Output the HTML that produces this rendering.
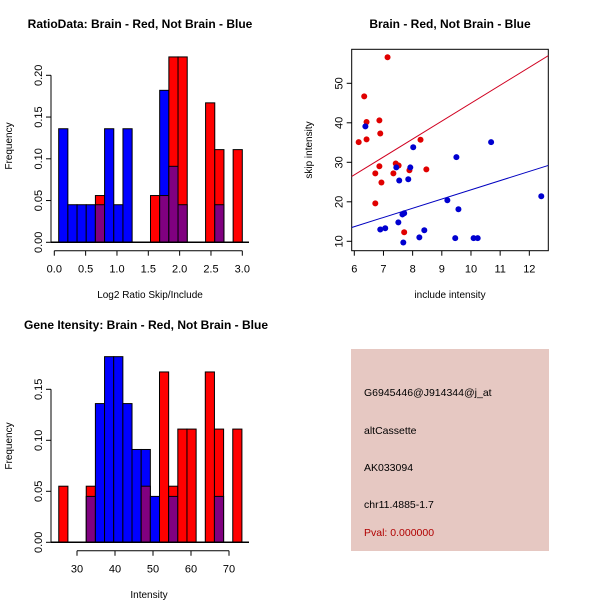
<!DOCTYPE html>
<html><head><meta charset="utf-8"><style>
body{margin:0;background:#fff;}
svg{display:block;font-family:"Liberation Sans",sans-serif;}
</style></head><body>
<svg id="c" width="600" height="600">
<rect x="0" y="0" width="600" height="600" fill="#fff"/>
</svg>
<script>
// Panel 1: ratio histogram
const ratioBinStart = 0.07, ratioBinWidth = 0.1465;
const ratioRed  = [0,0,0,0,0.056,0,0,0,0,0,0.056,0.056,0.222,0.222,0,0,0.167,0.111,0,0.111];
const ratioBlue = [0.136,0.045,0.045,0.045,0.045,0.136,0.045,0.136,0,0,0,0.182,0.091,0.045,0,0,0,0.045,0,0];
const ratioXTicks = ["0.0","0.5","1.0","1.5","2.0","2.5","3.0"];
const ratioYTicks = ["0.00","0.05","0.10","0.15","0.20"];
// Panel 2: scatter
const redX = [7.14,6.34,6.42,6.86,6.15,6.42,6.89,8.27,7.42,7.52,6.86,7.34,6.72,7.89,8.47,6.93,6.72,7.71];
const redY = [56.6,46.7,40.2,40.6,35.1,35.8,37.3,35.7,29.7,29.2,29.0,27.2,27.2,28.0,28.2,24.9,19.6,12.3];
const blueX = [6.38,8.02,7.44,7.92,7.54,7.85,9.5,10.69,9.19,9.57,7.65,7.71,7.51,6.89,7.06,8.4,8.23,7.68,9.46,10.09,10.23,12.41];
const blueY = [39.1,33.8,28.7,28.7,25.4,25.7,31.3,35.1,20.4,18.1,16.8,17.1,14.8,13.0,13.3,12.8,11.0,9.7,10.8,10.8,10.8,21.4];
const redFit = [-0.43, 4.54];   // intercept, slope
const blueFit = [-0.27, 2.33];
const scatXTicks = [6,7,8,9,10,11,12];
const scatYTicks = [10,20,30,40,50];
// Panel 3: intensity histogram
const intBinStart = 25.2, intBinWidth = 2.41;
const intRed  = [0.055,0,0,0.055,0,0,0,0,0,0.055,0,0.167,0.055,0.111,0.111,0,0.167,0.111,0,0.111];
const intBlue = [0,0,0,0.045,0.136,0.182,0.182,0.136,0.091,0.091,0.045,0,0.045,0,0,0,0,0.045,0,0];
const intXTicks = [30,40,50,60,70];
const intYTicks = ["0.00","0.05","0.10","0.15"];

const svg = document.getElementById('c');
const NS = 'http://www.w3.org/2000/svg';
function mk(tag, attrs, text){
  const e = document.createElementNS(NS, tag);
  for (const k in attrs) e.setAttribute(k, attrs[k]);
  if (text !== undefined) e.textContent = text;
  svg.appendChild(e);
  return e;
}

function histogram(prefix, red, blue, binStart, binW, sx, sy, y0){
  for (let i = 0; i < red.length; i++){
    const r = red[i], b = blue[i];
    const x1 = sx(binStart + i*binW), x2 = sx(binStart + (i+1)*binW);
    const hi = Math.max(r,b), lo = Math.min(r,b);
    if (hi > 0){
      const e = mk('rect',{x:x1,y:sy(hi),width:x2-x1,height:y0-sy(hi),fill:r>=b?'#ff0000':'#0000ff',stroke:'#000','stroke-width':1});
      
      
    }
    if (lo > 0){
      const e = mk('rect',{x:x1,y:sy(lo),width:x2-x1,height:y0-sy(lo),fill:'#800080',stroke:'#000','stroke-width':1});
      
      
    }
  }
}
function yAxis(prefix, ticks, sy, xAxis, yTop, yBot){
  mk('line',{x1:xAxis,y1:yBot,x2:xAxis,y2:yTop,stroke:'#000'});
  ticks.forEach(t=>{
    const y = sy(+t);
    mk('line',{x1:xAxis-5,y1:y,x2:xAxis,y2:y,stroke:'#000'});
    const e = mk('text',{x:xAxis-9,y:y,'font-size':11,'text-anchor':'middle',transform:`rotate(-90 ${xAxis-9} ${y})`},t);
    
    
  });
}
function xAxis(prefix, ticks, sx, yAx, x1, x2){
  mk('line',{x1:x1,y1:yAx,x2:x2,y2:yAx,stroke:'#000'});
  ticks.forEach(t=>{
    const x = sx(+t);
    mk('line',{x1:x,y1:yAx,x2:x,y2:yAx+5,stroke:'#000'});
    const e = mk('text',{x:x,y:yAx+22,'font-size':11,'text-anchor':'middle'},String(t));
    
    
  });
}

// ---- Panel 1
{
  const sx = v => 54.3 + v*62.67;
  const sy = v => 242.3 - v*835;
  histogram('ratio', ratioRed, ratioBlue, ratioBinStart, ratioBinWidth, sx, sy, 242.3);
  mk('line',{x1:51,y1:242.3,x2:249,y2:242.3,stroke:'#000','stroke-width':1.5});
  yAxis('ratio', ratioYTicks, sy, 51, sy(0.20), sy(0));
  xAxis('ratio', ratioXTicks, sx, 250.7, sx(0), sx(3));
}
// ---- Panel 3
{
  const sx = v => 77 + (v-30)*3.8;
  const sy = v => 542.3 - v*1020;
  histogram('intensity', intRed, intBlue, intBinStart, intBinWidth, sx, sy, 542.3);
  mk('line',{x1:51,y1:542.3,x2:249,y2:542.3,stroke:'#000','stroke-width':1.5});
  yAxis('intensity', intYTicks, sy, 51, sy(0.15), sy(0));
  xAxis('intensity', intXTicks, sx, 550.7, sx(30), sx(70));
}
// ---- Panel 2
{
  const sx = v => 354.3 + (v-6)*29.17;
  const sy = v => 241.3 - (v-10)*3.95;
  const xmin = (351.7-354.3)/29.17+6, xmax = (548.3-354.3)/29.17+6;
  mk('rect',{x:351.7,y:49.3,width:196.6,height:201.4,fill:'none',stroke:'#000'});
  // axes ticks
  scatYTicks.forEach(t=>{
    const y = sy(t);
    mk('line',{x1:346.7,y1:y,x2:351.7,y2:y,stroke:'#000'});
    const e = mk('text',{x:342.7,y:y,'font-size':11,'text-anchor':'middle',transform:`rotate(-90 342.7 ${y})`},String(t));
    
    
  });
  scatXTicks.forEach(t=>{
    const x = sx(t);
    mk('line',{x1:x,y1:250.7,x2:x,y2:255.7,stroke:'#000'});
    const e = mk('text',{x:x,y:272.7,'font-size':11,'text-anchor':'middle'},String(t));
    
    
  });
  const cp = mk('clipPath',{id:'clipS'});
  const cr = document.createElementNS(NS,'rect');
  cr.setAttribute('x',351.7);cr.setAttribute('y',49.3);cr.setAttribute('width',196.6);cr.setAttribute('height',201.4);
  cp.appendChild(cr);
  const rl = mk('line',{x1:sx(xmin),y1:sy(redFit[0]+redFit[1]*xmin),x2:sx(xmax),y2:sy(redFit[0]+redFit[1]*xmax),stroke:'#d00020','clip-path':'url(#clipS)'});
  
  
  const bl = mk('line',{x1:sx(xmin),y1:sy(blueFit[0]+blueFit[1]*xmin),x2:sx(xmax),y2:sy(blueFit[0]+blueFit[1]*xmax),stroke:'#0000c0','clip-path':'url(#clipS)'});
  
  
  redX.forEach((x,i)=>{
    const e = mk('circle',{cx:sx(x),cy:sy(redY[i]),r:3,fill:'#e00000'});
    
    
  });
  blueX.forEach((x,i)=>{
    const e = mk('circle',{cx:sx(x),cy:sy(blueY[i]),r:3,fill:'#0000d0'});
    
    
  });
}
</script>
<svg style="position:absolute;left:0;top:0" width="600" height="600">
<text x="140" y="28" font-size="12" font-weight="bold" text-anchor="middle" font-family="Liberation Sans">RatioData: Brain - Red, Not Brain - Blue</text>
<text x="450" y="28" font-size="12" font-weight="bold" text-anchor="middle" font-family="Liberation Sans">Brain - Red, Not Brain - Blue</text>
<text x="146" y="329" font-size="12" font-weight="bold" text-anchor="middle" font-family="Liberation Sans">Gene Itensity: Brain - Red, Not Brain - Blue</text>
<text x="150" y="298" font-size="10" text-anchor="middle" font-family="Liberation Sans">Log2 Ratio Skip/Include</text>
<text x="12" y="146" font-size="10" text-anchor="middle" font-family="Liberation Sans" transform="rotate(-90 12 146)">Frequency</text>
<text x="450" y="298" font-size="10" text-anchor="middle" font-family="Liberation Sans">include intensity</text>
<text x="312" y="150" font-size="10" text-anchor="middle" font-family="Liberation Sans" transform="rotate(-90 312 150)">skip intensity</text>
<text x="149" y="598" font-size="10" text-anchor="middle" font-family="Liberation Sans">Intensity</text>
<text x="12" y="446" font-size="10" text-anchor="middle" font-family="Liberation Sans" transform="rotate(-90 12 446)">Frequency</text>
<rect x="351" y="349" width="198" height="202" fill="#e6c8c2"/>
<g font-family="Liberation Sans" font-size="10.5">
<text x="364" y="396">G6945446@J914344@j_at</text>
<text x="364" y="434">altCassette</text>
<text x="364" y="471">AK033094</text>
<text x="364" y="508">chr11.4885-1.7</text>
<text x="364" y="536" fill="#b00000">Pval: 0.000000</text>
</g>
</svg>
</body></html>
